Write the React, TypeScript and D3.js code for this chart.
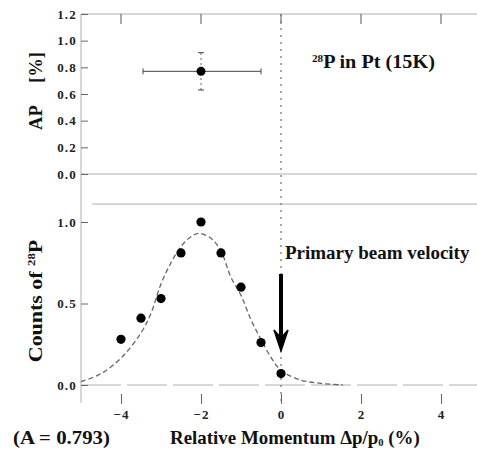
import { useEffect, useRef } from "react";
import * as d3 from "d3";

// x axis (relative momentum, %)
const xTicks = [-4, -2, 0, 2, 4];
// top panel: AP [%]
const apTicks = [0, 0.2, 0.4, 0.6, 0.8, 1.0, 1.2];
const apX = [-2];
const apY = [0.77];
const apXErr = [[-3.45, -0.5]];
const apYErr = [[0.63, 0.91]];
// bottom panel: counts of 28P
const countTicks = [0, 0.5, 1.0];
const countX = [-4, -3.5, -3, -2.5, -2, -1.5, -1, -0.5, 0];
const countY = [0.28, 0.41, 0.53, 0.81, 1.0, 0.81, 0.6, 0.26, 0.07];
// fitted curve
const fitX = [-5, -4.5, -4, -3.5, -3.25, -3, -2.75, -2.5, -2.25, -2.05, -1.75, -1.5, -1.25, -1, -0.75, -0.5, -0.25, 0, 0.5, 1, 1.55];
const fitY = [0.02, 0.07, 0.165, 0.32, 0.44, 0.62, 0.75, 0.85, 0.91, 0.93, 0.9, 0.82, 0.66, 0.55, 0.4, 0.28, 0.17, 0.09, 0.03, 0.01, 0];

const FONT = "'Liberation Serif', 'Times New Roman', serif";

export default function App() {
  const ref = useRef<SVGSVGElement>(null);

  useEffect(() => {
    document.body.style.margin = "0";
    const width = 477;
    const height = 453;
    const svg = d3.select(ref.current);
    svg.selectAll("*").remove();
    svg.attr("width", width).attr("height", height).attr("viewBox", `0 0 ${width} ${height}`);

    const x = d3.scaleLinear().domain([-5, 5]).range([81, 481]);
    const yTop = d3.scaleLinear().domain([0, 1.2]).range([174, 14]);
    const yBot = d3.scaleLinear().domain([0, 1]).range([385, 222]);
    const grey = "#b0b0b0";

    // frame / grid lines
    svg.append("line").attr("x1", 81).attr("x2", width).attr("y1", yTop(1.2)).attr("y2", yTop(1.2)).attr("stroke", grey);
    svg.append("line").attr("x1", 81).attr("x2", width).attr("y1", yTop(0)).attr("y2", yTop(0)).attr("stroke", grey);
    svg.append("line").attr("x1", 92).attr("x2", width).attr("y1", yBot(1.11)).attr("y2", yBot(1.11)).attr("stroke", grey);
    svg.append("line").attr("x1", 81).attr("x2", width).attr("y1", yBot(0)).attr("y2", yBot(0))
      .attr("stroke", grey).attr("stroke-dasharray", "40 6");
    svg.append("line").attr("x1", 81).attr("x2", 81).attr("y1", yTop(1.2)).attr("y2", yBot(-0.11)).attr("stroke", grey);

    const styleTicks = (g: any) => {
      g.select(".domain").remove();
      g.selectAll("line").attr("stroke", "#666");
      g.selectAll("text").attr("font-family", FONT).attr("font-size", 13).attr("font-weight", "bold")
        .attr("fill", "#222").attr("letter-spacing", 1.2);
    };

    // top panel y axis
    const gTop = svg.append("g").attr("transform", "translate(81,0)")
      .call(d3.axisRight(yTop).tickValues(apTicks).tickFormat(d3.format(".1f")).tickSize(7));
    styleTicks(gTop);
    gTop.selectAll("text").attr("x", -4).attr("text-anchor", "end");

    // bottom panel y axis
    const gBot = svg.append("g").attr("transform", "translate(81,0)")
      .call(d3.axisRight(yBot).tickValues(countTicks).tickFormat(d3.format(".1f")).tickSize(7));
    styleTicks(gBot);
    gBot.selectAll("text").attr("x", -4).attr("text-anchor", "end");

    // top ticks of upper panel
    svg.append("g").selectAll("line").data(xTicks).join("line")
      .attr("x1", (d) => x(d)).attr("x2", (d) => x(d))
      .attr("y1", yTop(1.2)).attr("y2", yTop(1.2) + 10).attr("stroke", "#555");

    // bottom x axis (ticks only)
    const gx = svg.append("g").attr("transform", "translate(0,404)")
      .call(d3.axisTop(x).tickValues(xTicks).tickFormat(d3.format("d")).tickSize(10));
    styleTicks(gx);
    gx.selectAll("text").attr("y", 15);

    // vertical dotted line at 0
    svg.append("line").attr("x1", x(0)).attr("x2", x(0)).attr("y1", yTop(1.2)).attr("y2", 404)
      .attr("stroke", "#777").attr("stroke-width", 1.3).attr("stroke-dasharray", "2 5");

    // AP point with error bars
    const ap = svg.append("g");
    apX.forEach((px, i) => {
      ap.append("line").attr("x1", x(apXErr[i][0])).attr("x2", x(apXErr[i][1]))
        .attr("y1", yTop(apY[i])).attr("y2", yTop(apY[i])).attr("stroke", "#444");
      apXErr[i].forEach((e) => ap.append("line").attr("x1", x(e)).attr("x2", x(e))
        .attr("y1", yTop(apY[i]) - 3).attr("y2", yTop(apY[i]) + 3).attr("stroke", "#444"));
      ap.append("line").attr("x1", x(px)).attr("x2", x(px))
        .attr("y1", yTop(apYErr[i][0])).attr("y2", yTop(apYErr[i][1]))
        .attr("stroke", "#666").attr("stroke-dasharray", "2 3");
      apYErr[i].forEach((e) => ap.append("line").attr("x1", x(px) - 3).attr("x2", x(px) + 3)
        .attr("y1", yTop(e)).attr("y2", yTop(e)).attr("stroke", "#444"));
      ap.append("circle").attr("cx", x(px)).attr("cy", yTop(apY[i])).attr("r", 4.5).attr("fill", "#000");
    });

    // fitted curve
    const line = d3.line<number>().x((d, i) => x(fitX[i])).y((d) => yBot(d)).curve(d3.curveCatmullRom);
    svg.append("path").attr("d", line(fitY)).attr("fill", "none").attr("stroke", "#666")
      .attr("stroke-width", 1.3).attr("stroke-dasharray", "5 3");

    // count points
    svg.append("g").selectAll("circle").data(countY).join("circle")
      .attr("cx", (d, i) => x(countX[i])).attr("cy", (d) => yBot(d)).attr("r", 4.6).attr("fill", "#000");

    // arrow: primary beam velocity
    const ax = x(0);
    svg.append("line").attr("x1", ax).attr("x2", ax).attr("y1", 274).attr("y2", 340)
      .attr("stroke", "#000").attr("stroke-width", 4);
    svg.append("path")
      .attr("d", `M${ax - 7},330 L${ax},351 L${ax + 7},330 L${ax},338 Z`)
      .attr("fill", "#000").attr("stroke", "#000").attr("stroke-width", 1.5);

    // labels: measured, then stretched horizontally to the reference widths
    const label = (tx: number, ty: number, target: number, size: number, rot = 0) => {
      const t = svg.append("text").attr("font-family", FONT).attr("font-size", size)
        .attr("font-weight", "bold").attr("fill", "#111")
        .attr("text-anchor", rot ? "middle" : "start");
      return {
        t,
        fit() {
          const w = (t.node() as SVGTextElement).getBBox().width || target;
          const k = target / w;
          t.attr("transform", `translate(${tx},${ty}) rotate(${rot}) scale(${k},1)`);
        },
      };
    };

    const l1 = label(312, 68, 123, 18);
    l1.t.append("tspan").attr("font-size", 10).attr("dy", -6).text("28");
    l1.t.append("tspan").attr("dy", 6).text("P in Pt (15K)");
    l1.fit();

    const l2 = label(285, 259, 185, 19);
    l2.t.text("Primary beam velocity");
    l2.fit();

    const l3 = label(13, 444, 97, 18);
    l3.t.text("(A = 0.793)");
    l3.fit();

    const l4 = label(170, 444, 250, 18);
    l4.t.append("tspan").text("Relative Momentum Δp/p");
    l4.t.append("tspan").attr("font-size", 10).attr("dy", 2).text("0");
    l4.t.append("tspan").attr("dy", -2).text(" (%)");
    l4.fit();

    const l5 = label(42, 91, 78, 19, -90);
    l5.t.attr("xml:space", "preserve").text("AP     [%]");
    l5.fit();

    const l6 = label(42, 301, 123, 19, -90);
    l6.t.append("tspan").text("Counts of ");
    l6.t.append("tspan").attr("font-size", 11).attr("dy", -7).text("28");
    l6.t.append("tspan").attr("dy", 7).text("P");
    l6.fit();
  }, []);

  return <svg ref={ref} style={{ display: "block" }} />;
}
